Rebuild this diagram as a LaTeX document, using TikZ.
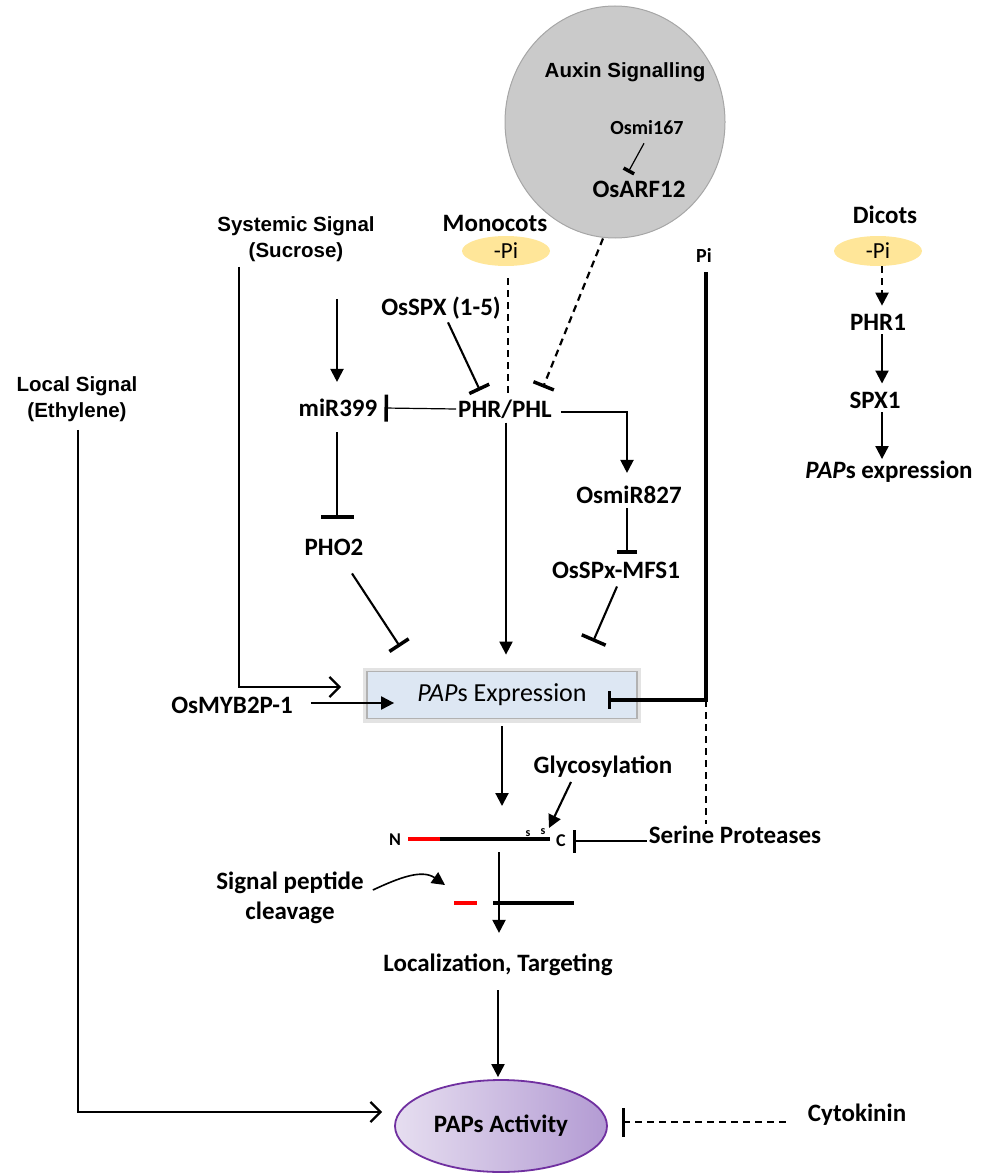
\documentclass[tikz,border=0pt]{standalone}
\usepackage{fontspec}
\setmainfont{Carlito}
\newfontfamily\arialfont{Liberation Sans}
\usetikzlibrary{shapes.geometric,arrows.meta,calc}
\definecolor{auxgrey}{HTML}{CACACA}
\definecolor{auxedge}{HTML}{A6A6A6}
\definecolor{piyellow}{HTML}{FFE699}
\definecolor{exprblue}{HTML}{DDE7F3}
\definecolor{actedge}{HTML}{7030A0}
\definecolor{actlight}{HTML}{E6DEF0}
\definecolor{actdark}{HTML}{B39BD3}
\tikzset{
  % gene / regulator labels (bold, no frame)
  gene/.style={font=\fontsize{25}{30}\selectfont\bfseries, inner sep=2pt, align=center},
  genesm/.style={gene, font=\fontsize{20}{24}\selectfont\bfseries},
  % signal labels in the sans face
  sig/.style={font=\arialfont\fontsize{20.5}{26}\selectfont\bfseries, inner sep=2pt, align=center},
  % -Pi bubbles
  pinode/.style={ellipse, fill=piyellow, minimum width=88, minimum height=30,
    inner sep=0pt, font=\fontsize{23}{26}\selectfont},
  auxin/.style={ellipse, fill=auxgrey, draw=auxedge, line width=1pt,
    minimum width=220, minimum height=232, inner sep=0pt},
  papbox/.style={draw=gray!60, line width=1.8pt, fill=exprblue,
    preaction={draw=gray!22, line width=8pt},
    minimum width=270, minimum height=47, font=\fontsize{26}{30}\selectfont},
  actnode/.style={ellipse, draw=actedge, line width=1.8pt, left color=actlight,
    right color=actdark, minimum width=212, minimum height=92,
    font=\fontsize{25}{30}\selectfont\bfseries},
  % connectors
  act/.style={line width=2.1pt, -{Triangle[length=13pt,width=13pt]}},
  barb/.style={line width=2.3pt, -{Straight Barb[length=10pt,width=20pt,line width=2.3pt]}},
  inh/.style={line width=2.1pt, -{Bar[width=#1,line width=3.5pt]}},
  inh/.default=22pt,
  dsh/.style={dash pattern=on 7pt off 5pt},
}
\newcommand{\gene}[4][gene]{%
  \node[#1] (#2) at (#3) {#4};}

\begin{document}
\begin{tikzpicture}[x=1pt,y=1pt]
\useasboundingbox (0,0) rectangle (987,-1174);

% ----- auxin -----
\node[auxin] (auxin) at (615,-122) {};
\node[sig] (auxtxt) at (625,-72) {Auxin Signalling};
\gene[genesm]{osmi167}{647,-128}{Osmi167}
\gene{osarf12}{639,-189}{OsARF12}
\draw[inh=12pt, line width=1.2pt] ([xshift=-3,yshift=-6]osmi167.south) -- ([xshift=-11,yshift=6]osarf12.north);

% ----- monocots -----
\gene{mono}{495,-223}{Monocots}
\node[pinode] (pim) at (506,-251) {-Pi};
\gene{osspx}{441,-308}{OsSPX (1-5)}
\gene{phr}{505,-409}{PHR/PHL}
\node[sig] (sys) at (296,-239) {Systemic Signal\\(Sucrose)};
\gene{mir}{338,-408}{miR399}
\gene{pho2}{334,-547}{PHO2}
\gene{osmir}{629,-495}{OsmiR827}
\gene{mfs1}{616,-570}{OsSPx-MFS1}
\gene[genesm]{pi}{704,-255}{Pi}
\node[sig] (local) at (77,-399) {Local Signal\\(Ethylene)};

\draw[dsh, line width=2.2pt] ([xshift=2,yshift=-12]pim.south) -- ([xshift=3]phr.north);
\draw[dsh, inh, line width=2.2pt] ([xshift=-12]auxin.south) -- ([xshift=38,yshift=10]phr.north);
\draw[inh] ([xshift=7,yshift=-1]osspx.south) -- ([xshift=-25,yshift=7]phr.north);
\draw[act] ([xshift=41,yshift=-35]sys.south) -- ([xshift=-1,yshift=15]mir.north);
\draw[inh=27pt, line width=1.2pt] (phr.west) -- ([xshift=5]mir.east);
\draw[inh=33pt] ([xshift=-1,yshift=-13]mir.south) -- ([xshift=3,yshift=18]pho2.north);
\draw[act] ([xshift=7,yshift=-3]phr.east) -| ([xshift=-2,yshift=11]osmir.north);
\draw[inh=20pt] ([xshift=-2,yshift=-2]osmir.south) -- ([xshift=11,yshift=6]mfs1.north);

% ----- PAPs expression -----
\node[papbox] (papx) at (502,-695) {\textit{PAP}s Expression};
\gene{myb}{232,-705}{OsMYB2P-1}

\draw[inh=23pt] ([xshift=18,yshift=-16]pho2.south) -- ([xshift=-102,yshift=24]papx.north);
\draw[act] ([xshift=1,yshift=-2]phr.south) -- ([xshift=4,yshift=16]papx.north);
\draw[inh=26pt] ([xshift=1,yshift=-6]mfs1.south) -- ([xshift=91,yshift=29]papx.north);
\draw[barb] ([xshift=-57,yshift=-3]sys.south) |- ([xshift=-25,yshift=8]papx.west);
\draw[act] ([xshift=16,yshift=2]myb.east) -- ([xshift=28,yshift=-8]papx.west);

% Pi: solid to the box, dashed on to the proteases
\coordinate (pbend) at (706,-700);
\gene{serine}{735,-835}{Serine Proteases}
\draw[inh=18pt, line width=3.2pt] ([xshift=2,yshift=-8]pi.south) -- (pbend) -- ([xshift=-30,yshift=-5]papx.east);
\draw[dsh, line width=2pt] (pbend) -- (pbend |- serine.north);

% ----- peptide -----
\node[font=\fontsize{18}{20}\selectfont\bfseries, inner sep=2pt] (nterm) at (395,-840) {N};
\node[font=\fontsize{18}{20}\selectfont\bfseries, inner sep=2pt] (cterm) at (561,-841) {C};
\node[font=\fontsize{12}{14}\selectfont\bfseries, inner sep=0pt] (s1) at (528,-834) {s};
\node[font=\fontsize{12}{14}\selectfont\bfseries, inner sep=0pt] (s2) at (543,-832) {s};
\draw[red, line width=3.2pt] (408,-839) -- (440,-839);
\draw[line width=3.2pt] (440,-839) -- (550,-839);
\draw[red, line width=3.2pt] (454,-903) -- (477,-903);
\draw[line width=3.2pt] (493,-903) -- (574,-903);

\gene{glyc}{603,-767}{Glycosylation}
\gene{cleave}{290,-898}{Signal peptide\\cleavage}
\gene{target}{498,-965}{Localization, Targeting}
\coordinate (pepin) at (502,-806);
\coordinate (pepout) at (499,-852);
\coordinate (glytip) at (549,-828);
\coordinate (cleavtip) at (445,-885);

\draw[act] ([yshift=-7]papx.south) -- (pepin);
\draw[act] ([xshift=-32,yshift=-2]glyc.south) -- (glytip);
\draw[inh=23pt] ([yshift=-6]serine.west) -- ([xshift=5]cterm.east);
\draw[act] (pepout) -- ([xshift=1,yshift=19]target.north);
\draw[act, line width=1.6pt] ([xshift=7,yshift=8]cleave.east) to[out=25,in=145] (cleavtip);

% ----- PAPs activity -----
\node[actnode] (pact) at (501,-1126) {PAPs Activity};
\gene{cyto}{857,-1115}{Cytokinin}
\draw[act] ([yshift=-12]target.south) -- ([xshift=-3,yshift=2]pact.north);
\draw[barb] ([xshift=1,yshift=-6]local.south) |- ([xshift=-12,yshift=14]pact.west);
\draw[dsh, inh=29pt, line width=2pt] ([xshift=-20,yshift=-7]cyto.west) -- ([xshift=14,yshift=4]pact.east);

% ----- dicots -----
\gene{dicots}{885,-215}{Dicots}
\node[pinode] (pid) at (878,-251) {-Pi};
\gene{phr1}{878,-322}{PHR1}
\gene{spx1}{875,-400}{SPX1}
\gene{dexp}{889,-472}{\textit{PAP}s expression}
\draw[act, dsh] ([xshift=4]pid.south) -- ([xshift=4,yshift=6]phr1.north);
\draw[act] ([xshift=4,yshift=-2]phr1.south) -- ([xshift=7,yshift=6]spx1.north);
\draw[act] ([xshift=7,yshift=-2]spx1.south) -- ([xshift=-7]dexp.north);

\end{tikzpicture}
\end{document}
